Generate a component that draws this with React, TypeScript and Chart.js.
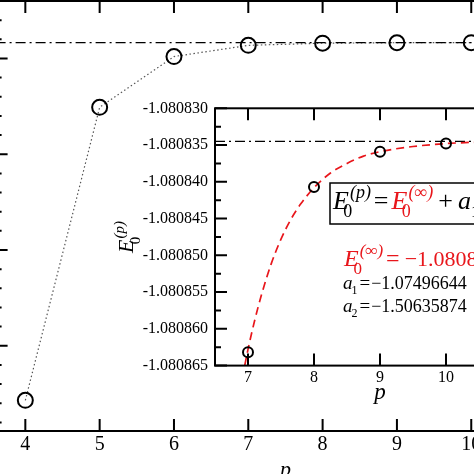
import React, { useEffect, useRef } from "react";
import { Chart, registerables } from "chart.js";

Chart.register(...registerables);

const SERIF = '"Liberation Serif", "DejaVu Serif", serif';

// ---------- main panel data ----------
const pValues = [4, 5, 6, 7, 8, 9, 10];
const energyValues = [-1.08457, -1.08151, -1.08098, -1.0808632, -1.0808407, -1.0808359, -1.0808348];
const eInfinity = -1.0808345;
const mainXTicks = [4, 5, 6, 7, 8, 9, 10, 11];
const mainYMajorTicks = [-1.081, -1.082, -1.083, -1.084];
const mainYMinorTicks = [
  -1.0804, -1.0806, -1.0808, -1.0812, -1.0814, -1.0816, -1.0818, -1.0822, -1.0824, -1.0826,
  -1.0828, -1.0832, -1.0834, -1.0836, -1.0838, -1.0842, -1.0844, -1.0846, -1.0848,
];
const mainXRange = [3.6, 11.4];
const mainYRange = [-1.08489, -1.0804];

// ---------- inset data ----------
const insetPValues = [7, 8, 9, 10];
const insetEnergyValues = [-1.0808632, -1.0808407, -1.0808359, -1.0808348];
const fitP = [6.95, 7.0, 7.1, 7.2, 7.35, 7.5, 7.65, 7.8, 8.0, 8.25, 8.5, 8.75, 9.0, 9.5, 10.0, 10.5, 11.0, 11.5];
const fitE = [
  -1.080865, -1.0808628, -1.0808589, -1.0808555, -1.0808512, -1.0808478, -1.0808451, -1.080843,
  -1.0808408, -1.0808388, -1.0808375, -1.0808365, -1.0808359, -1.0808352, -1.0808348, -1.0808346,
  -1.0808345, -1.0808345,
];
const insetXTicks = [7, 8, 9, 10, 11];
const insetYMajorTicks = [-1.080865, -1.08086, -1.080855, -1.08085, -1.080845, -1.08084, -1.080835, -1.08083];
const insetYMinorTicks = [-1.0808625, -1.0808575, -1.0808525, -1.0808475, -1.0808425, -1.0808375, -1.0808325];
const insetXRange = [6.5, 11.5];
const insetYRange = [-1.080865, -1.08083];

const eInfText = "\u22121.08083446";
const a1Text = "\u22121.07496644";
const a2Text = "\u22121.50635874";

function drawFrameTicks(
  chart: any,
  xTicks: number[],
  yMajor: number[],
  yMinor: number[],
  majorLen: number
) {
  const { ctx, chartArea: a, scales } = chart;
  const x = scales.x;
  const y = scales.y;
  ctx.save();
  ctx.strokeStyle = "#000";
  ctx.lineWidth = 2;
  ctx.setLineDash([]);
  ctx.strokeRect(a.left, a.top, a.right - a.left, a.bottom - a.top);
  ctx.beginPath();
  for (const v of xTicks) {
    const px = x.getPixelForValue(v);
    ctx.moveTo(px, a.bottom);
    ctx.lineTo(px, a.bottom - majorLen);
    ctx.moveTo(px, a.top);
    ctx.lineTo(px, a.top + majorLen);
  }
  for (const v of yMajor) {
    const py = y.getPixelForValue(v);
    ctx.moveTo(a.left, py);
    ctx.lineTo(a.left + majorLen, py);
    ctx.moveTo(a.right, py);
    ctx.lineTo(a.right - majorLen, py);
  }
  for (const v of yMinor) {
    const py = y.getPixelForValue(v);
    ctx.moveTo(a.left, py);
    ctx.lineTo(a.left + majorLen / 2, py);
    ctx.moveTo(a.right, py);
    ctx.lineTo(a.right - majorLen / 2, py);
  }
  ctx.stroke();
  ctx.restore();
}

// letter with subscript and superscript; returns end x
function drawTerm(
  ctx: CanvasRenderingContext2D,
  x: number,
  base: number,
  letter: string,
  sub: string,
  sup: string,
  color: string,
  size: number
) {
  ctx.fillStyle = color;
  ctx.font = `italic ${size}px ${SERIF}`;
  ctx.fillText(letter, x, base);
  const w = ctx.measureText(letter).width;
  const small = Math.round(size * 0.7);
  ctx.font = `italic ${small}px ${SERIF}`;
  ctx.fillText(sup, x + w + 1, base - size * 0.42);
  const supW = ctx.measureText(sup).width;
  ctx.font = `${small}px ${SERIF}`;
  ctx.fillText(sub, x + w - size * 0.22, base + size * 0.32);
  const subW = ctx.measureText(sub).width;
  return x + w + Math.max(supW + 1, subW - size * 0.22);
}

function drawPlain(
  ctx: CanvasRenderingContext2D,
  x: number,
  base: number,
  text: string,
  color: string,
  size: number,
  italic = false
) {
  ctx.fillStyle = color;
  ctx.font = `${italic ? "italic " : ""}${size}px ${SERIF}`;
  ctx.fillText(text, x, base);
  return x + ctx.measureText(text).width;
}

const mainPlugin = {
  id: "mainFrame",
  afterDatasetsDraw(chart: any) {
    drawFrameTicks(chart, mainXTicks, mainYMajorTicks, mainYMinorTicks, 12);
  },
};

const RED = "#e8161b";

const insetPlugin = {
  id: "insetDecor",
  afterDatasetsDraw(chart: any) {
    drawFrameTicks(chart, insetXTicks, insetYMajorTicks, insetYMinorTicks, 12);
  },
  afterDraw(chart: any) {
    const { ctx, chartArea: a } = chart;
    ctx.save();
    ctx.textBaseline = "alphabetic";
    ctx.textAlign = "left";

    // formula box
    const bx = a.left + 115;
    const by = a.top + 74.7;
    const bh = 41;
    ctx.fillStyle = "#fff";
    ctx.fillRect(bx, by, 400, bh);
    ctx.strokeStyle = "#000";
    ctx.lineWidth = 1.5;
    ctx.strokeRect(bx, by, 400, bh);
    let x = bx + 3;
    const base = by + 26;
    x = drawTerm(ctx, x, base, "E", "0", "(p)", "#000", 26);
    x = drawPlain(ctx, x + 3, base, "=", "#000", 26) + 3;
    x = drawTerm(ctx, x, base, "E", "0", "(\u221e)", RED, 26);
    x = drawPlain(ctx, x + 5, base, "+", "#000", 26) + 5;
    x = drawPlain(ctx, x, base, "a", "#000", 26, true);
    ctx.font = `${17}px ${SERIF}`;
    ctx.fillText("1", x, base + 8);
    x += 10;
    x = drawPlain(ctx, x, base, "e", "#000", 26, true);

    // red E(inf) line
    const rb = a.top + 158;
    let rx = a.left + 129;
    rx = drawTerm(ctx, rx, rb, "E", "0", "(\u221e)", RED, 24);
    rx = drawPlain(ctx, rx + 3, rb, "=", RED, 24) + 5;
    drawPlain(ctx, rx, rb, eInfText, RED, 22);

    // a1, a2
    const drawA = (b: number, idx: string, val: string) => {
      let ax = a.left + 128;
      ax = drawPlain(ctx, ax, b, "a", "#000", 19, true);
      ctx.font = `12px ${SERIF}`;
      ctx.fillText(idx, ax - 1, b + 5);
      ax += 6;
      ax = drawPlain(ctx, ax + 1, b, "=", "#000", 19) + 1;
      drawPlain(ctx, ax, b, val, "#000", 18);
    };
    drawA(a.top + 181, "1", a1Text);
    drawA(a.top + 203.5, "2", a2Text);

    // y axis title, rotated
    ctx.save();
    ctx.translate(26, (a.top + a.bottom) / 2);
    ctx.rotate(-Math.PI / 2);
    ctx.font = `italic 22px ${SERIF}`;
    const ew = ctx.measureText("E").width;
    ctx.font = `italic 15px ${SERIF}`;
    const sw = ctx.measureText("(p)").width;
    const total = ew + sw + 1;
    drawTerm(ctx, -total / 2, 7, "E", "0", "(p)", "#000", 22);
    ctx.restore();

    ctx.restore();
  },
};

function makeMainConfig(): any {
  return {
    type: "scatter",
    data: {
      datasets: [
        {
          data: [
            { x: mainXRange[0], y: eInfinity },
            { x: mainXRange[1], y: eInfinity },
          ],
          showLine: true,
          borderColor: "#000",
          borderWidth: 1.3,
          borderDash: [10, 4, 2, 4],
          pointRadius: 0,
        },
        {
          data: pValues.map((p, i) => ({ x: p, y: energyValues[i] })),
          showLine: true,
          borderColor: "#555",
          borderWidth: 1.2,
          borderDash: [1.5, 2.5],
          pointRadius: 7.5,
          pointBorderWidth: 2,
          pointBorderColor: "#000",
          pointBackgroundColor: "rgba(0,0,0,0)",
        },
      ],
    },
    options: {
      animation: false,
      responsive: false,
      events: [],
      layout: { autoPadding: false, padding: { left: 25.6, right: 24.7, top: 1, bottom: 0 } },
      plugins: { legend: { display: false }, tooltip: { enabled: false } },
      scales: {
        x: {
          type: "linear",
          min: mainXRange[0],
          max: mainXRange[1],
          afterBuildTicks: (s: any) => {
            s.ticks = mainXTicks.map((value) => ({ value }));
          },
          afterFit: (s: any) => {
            s.height = 69;
          },
          grid: { display: false, drawTicks: false },
          border: { display: false },
          ticks: {
            padding: 2,
            color: "#000",
            autoSkip: false,
            maxRotation: 0,
            font: { family: SERIF, size: 20 },
            callback: (v: any) => String(v),
          },
          title: {
            display: true,
            text: "p",
            color: "#000",
            font: { family: SERIF, size: 22, style: "italic" },
            padding: { top: 0, bottom: 17 },
          },
        },
        y: {
          type: "linear",
          display: false,
          min: mainYRange[0],
          max: mainYRange[1],
        },
      },
    },
    plugins: [mainPlugin],
  };
}

function makeInsetConfig(): any {
  return {
    type: "scatter",
    data: {
      datasets: [
        {
          data: insetPValues.map((p, i) => ({ x: p, y: insetEnergyValues[i] })),
          showLine: false,
          pointRadius: 5,
          pointBorderWidth: 2,
          pointBorderColor: "#000",
          pointBackgroundColor: "rgba(0,0,0,0)",
        },
        {
          data: fitP.map((p, i) => ({ x: p, y: fitE[i] })),
          showLine: true,
          borderColor: RED,
          borderWidth: 1.7,
          borderDash: [8, 5],
          cubicInterpolationMode: "monotone",
          pointRadius: 0,
        },
        {
          data: [
            { x: insetXRange[0], y: eInfinity },
            { x: insetXRange[1], y: eInfinity },
          ],
          showLine: true,
          borderColor: "#000",
          borderWidth: 1.3,
          borderDash: [10, 4, 2, 4],
          pointRadius: 0,
        },
      ],
    },
    options: {
      animation: false,
      responsive: false,
      events: [],
      layout: { autoPadding: false, padding: { left: 0, right: 25, top: 18.3, bottom: 0 } },
      plugins: { legend: { display: false }, tooltip: { enabled: false } },
      scales: {
        x: {
          type: "linear",
          min: insetXRange[0],
          max: insetXRange[1],
          afterBuildTicks: (s: any) => {
            s.ticks = insetXTicks.map((value) => ({ value }));
          },
          afterFit: (s: any) => {
            s.height = 64.4;
          },
          grid: { display: false, drawTicks: false },
          border: { display: false },
          ticks: {
            padding: 2.3,
            color: "#000",
            autoSkip: false,
            maxRotation: 0,
            font: { family: SERIF, size: 16 },
            callback: (v: any) => String(v),
          },
          title: {
            display: true,
            text: "p",
            color: "#000",
            font: { family: SERIF, size: 23, style: "italic" },
            padding: { top: 0, bottom: 23 },
          },
        },
        y: {
          type: "linear",
          min: insetYRange[0],
          max: insetYRange[1],
          afterBuildTicks: (s: any) => {
            s.ticks = insetYMajorTicks.map((value) => ({ value }));
          },
          afterFit: (s: any) => {
            s.width = 115;
          },
          grid: { display: false, drawTicks: false },
          border: { display: false },
          ticks: {
            padding: 7,
            color: "#000",
            autoSkip: false,
            font: { family: SERIF, size: 16 },
            callback: (v: any) => Number(v).toFixed(6),
          },
        },
      },
    },
    plugins: [insetPlugin],
  };
}

export default function App() {
  const mainRef = useRef<HTMLCanvasElement>(null);
  const insetRef = useRef<HTMLCanvasElement>(null);

  useEffect(() => {
    const main = new Chart(mainRef.current as HTMLCanvasElement, makeMainConfig());
    const inset = new Chart(insetRef.current as HTMLCanvasElement, makeInsetConfig());
    return () => {
      main.destroy();
      inset.destroy();
    };
  }, []);

  return (
    <div
      style={{
        position: "fixed",
        left: 0,
        top: 0,
        width: 474,
        height: 474,
        overflow: "hidden",
        background: "#fff",
      }}
    >
      <canvas
        ref={mainRef}
        width={630}
        height={500}
        style={{ position: "absolute", left: -30, top: 0, width: 630, height: 500 }}
      />
      <canvas
        ref={insetRef}
        width={470}
        height={340}
        style={{ position: "absolute", left: 100, top: 90, width: 470, height: 340 }}
      />
    </div>
  );
}
